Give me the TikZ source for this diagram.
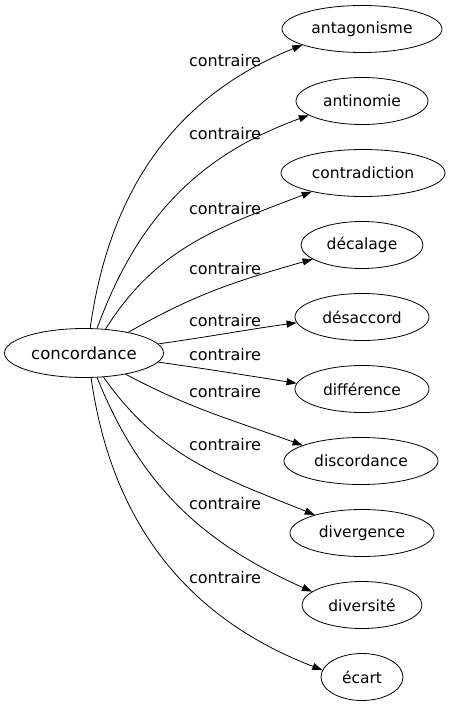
\documentclass[tikz,border=0pt]{standalone}
\usepackage{fontspec}
\setmainfont{DejaVu Sans}
\usetikzlibrary{shapes.geometric,arrows.meta}
\tikzset{
	word/.style={draw, ellipse, inner sep=0pt, minimum height=47pt, line width=0.8pt, font=\fontsize{15.5}{18}\selectfont},
	rel/.style={font=\fontsize{16}{19}\selectfont},
	link/.style={line width=0.8pt, -{Triangle[length=10pt,width=7pt]}}
}
\begin{document}
\begin{tikzpicture}[x=1pt,y=-1pt]
	\useasboundingbox (0,0) rectangle (450,707);
	\node[word, minimum width=159pt, minimum height=49pt, font=\fontsize{16.5}{19}\selectfont] (conc) at (84,353) {concordance};
	\node[word, minimum width=160pt] (anta) at (362,29) {antagonisme};
	\node[word, minimum width=132pt] (anti) at (362,101) {antinomie};
	\node[word, minimum width=164pt] (contra) at (363,173) {contradiction};
	\node[word, minimum width=122pt] (deca) at (362,245) {décalage};
	\node[word, minimum width=134pt] (desa) at (362,317) {désaccord};
	\node[word, minimum width=134pt] (diff) at (362,389) {différence};
	\node[word, minimum width=154pt] (disc) at (361,461) {discordance};
	\node[word, minimum width=144pt] (dive) at (362,533) {divergence};
	\node[word, minimum width=120pt] (divs) at (362,605) {diversité};
	\node[word, minimum width=82pt] (ecart) at (362,677) {écart};
	% edges
	\draw[link] (conc.76) to[out=82,in=202] (anta.195);
	\draw[link] (conc.62) to[out=70,in=200] (anti.195);
	\draw[link] (conc.48) to[out=58,in=201] (contra.200);
	\draw[link] (conc.25) to[out=30,in=196] (deca.196);
	\draw[link] (conc.7) to[out=8,in=188] (desa.185);
	\draw[link] (conc.-7) to[out=-8,in=171] (diff.175);
	\draw[link] (conc.-27) to[out=-28,in=160] (disc.165);
	\draw[link] (conc.-51) to[out=-55,in=158] (dive.159);
	\draw[link] (conc.-62) to[out=-68,in=156] (divs.165);
	\draw[link] (conc.-74) to[out=-82,in=159] (ecart.170);
	% labels
	\node[rel] (l1) at (225,61) {contraire};
	\node[rel] (l2) at (225,134) {contraire};
	\node[rel] (l3) at (225,209) {contraire};
	\node[rel] (l4) at (225,269) {contraire};
	\node[rel] (l5) at (225,321) {contraire};
	\node[rel] (l6) at (225,355) {contraire};
	\node[rel] (l7) at (225,392) {contraire};
	\node[rel] (l8) at (225,445) {contraire};
	\node[rel] (l9) at (225,504) {contraire};
	\node[rel] (l10) at (225,578) {contraire};
\end{tikzpicture}
\end{document}
